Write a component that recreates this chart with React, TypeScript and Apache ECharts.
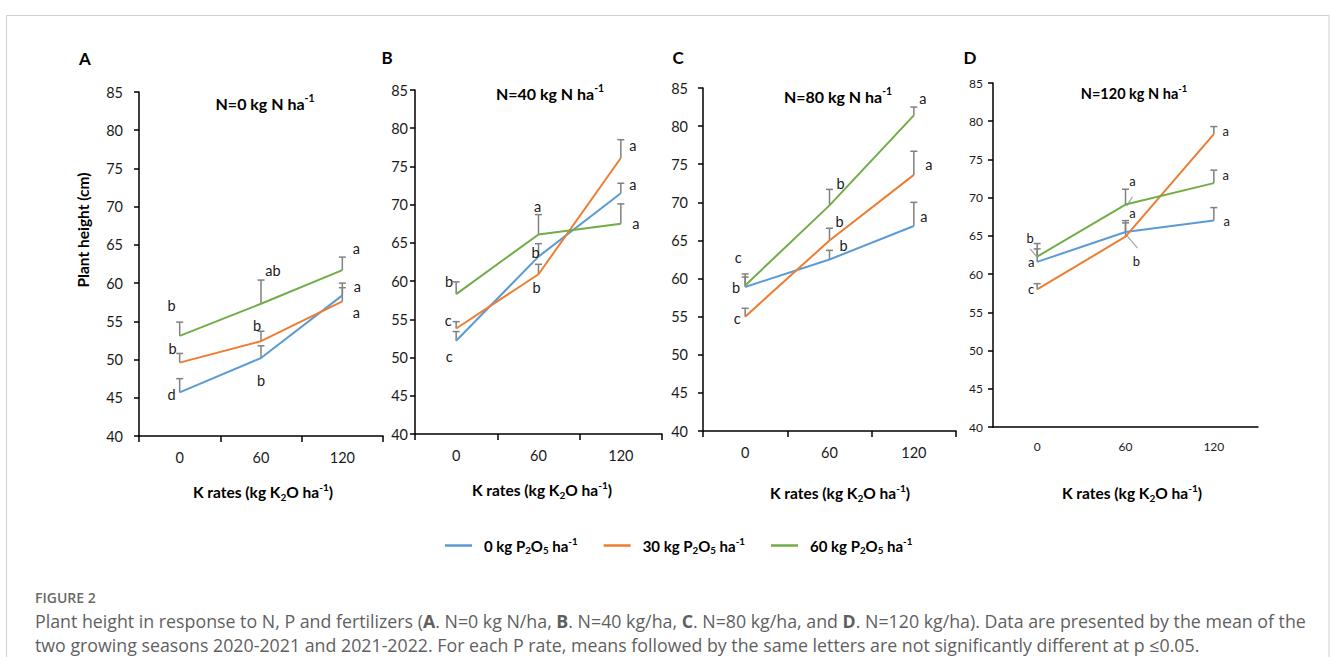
import React, { useEffect, useRef } from "react";
import * as echarts from "echarts";

// ---------- data ----------
const kRates = ["0", "60", "120"];
const pRates = ["0 kg P2O5 ha-1", "30 kg P2O5 ha-1", "60 kg P2O5 ha-1"];
const panelTitles = ["0", "40", "80", "120"]; // N rates
const panelLetters = ["A", "B", "C", "D"];

// means [P0, P30, P60] x [K0, K60, K120]
const meansN0 = [[45.7, 50.2, 58.4], [49.6, 52.4, 57.6], [53.1, 57.3, 61.7]];
const meansN40 = [[52.2, 63.2, 71.5], [53.8, 60.9, 76.1], [58.3, 66.1, 67.5]];
const meansN80 = [[58.9, 62.5, 66.9], [55.0, 65.0, 73.6], [59.1, 69.6, 81.4]];
const meansN120 = [[61.6, 65.5, 67.0], [58.0, 64.9, 78.3], [62.3, 69.1, 71.9]];

// standard errors (upper bars)
const seN0 = [[1.8, 1.6, 1.0], [1.2, 1.3, 2.4], [1.8, 3.1, 1.7]];
const seN40 = [[1.2, 1.7, 1.3], [0.9, 1.3, 2.4], [1.6, 2.6, 2.6]];
const seN80 = [[1.7, 1.2, 3.1], [1.1, 1.6, 3.1], [1.1, 2.1, 1.1]];
const seN120 = [[1.7, 1.5, 1.7], [0.75, 1.8, 1.0], [1.7, 2.0, 1.7]];

// significance letters
const lettersN0 = [["d", "b", "a"], ["b", "b", "a"], ["b", "ab", "a"]];
const lettersN40 = [["c", "b", "a"], ["c", "b", "a"], ["b", "a", "a"]];
const lettersN80 = [["b", "b", "a"], ["c", "b", "a"], ["c", "b", "a"]];
const lettersN120 = [["a", "a", "a"], ["c", "b", "a"], ["b", "a", "a"]];

// ---------- layout (positions of letters: [y in axis units, x offset px]) ----------
const letterPosN0 = [[[45.4, -8], [47.3, 0], [59.6, 15]], [[51.4, -7], [54.4, -4], [56.1, 14]], [[57.1, -8], [61.6, 12], [64.5, 14]]];
const letterPosN40 = [[[50.1, -7], [63.8, -3], [72.6, 12]], [[54.8, -8], [59.1, -2], [77.7, 12]], [[60.0, -7], [69.8, -1], [67.6, 15]]];
const letterPosN80 = [[[58.8, -9], [64.4, 14], [68.2, 10]], [[54.8, -8], [67.55, 10], [74.9, 15]], [[62.8, -7], [72.5, 11], [83.6, 9]]];
const letterPosN120 = [[[61.6, -6], [68.0, 7], [66.95, 13]], [[58.05, -6], [61.7, 11], [78.7, 12]], [[64.7, -7], [72.2, 7], [73.0, 12]]];
// leader strokes in panel D: [cat, y1, dx1, y2, dx2]
const leadersN120 = [[0, 62.2, 0, 63.3, -7], [1, 68.9, 1, 70.1, 7], [1, 65.1, 1, 63.4, 12]];

const allMeans = [meansN0, meansN40, meansN80, meansN120];
const allSe = [seN0, seN40, seN80, seN120];
const allLetters = [lettersN0, lettersN40, lettersN80, lettersN120];
const allLetterPos = [letterPosN0, letterPosN40, letterPosN80, letterPosN120];

const colors = ["#5b9bd5", "#ed7d31", "#70ad47"];
const FONT = "Lato, 'Open Sans', sans-serif";

const panels = [
  { left: 139, width: 244, top: 92, height: 344, lab: 14.5, yMargin: 16, xMargin: 14, ticksX: true, title: [265, 103], tSize: 16, letter: [85, 58], xname: [263, 492], letSize: 14.5 },
  { left: 415, width: 247, top: 90, height: 344, lab: 14.5, yMargin: 7, xMargin: 14, ticksX: true, title: [550, 93], tSize: 16, letter: [387, 57], xname: [542, 490], letSize: 14.5 },
  { left: 703, width: 253, top: 88, height: 343, lab: 14.5, yMargin: 15, xMargin: 14, ticksX: true, title: [838, 96], tSize: 16, letter: [678, 57], xname: [840, 493], letSize: 14.5 },
  { left: 993, width: 265, top: 83, height: 344, lab: 12, yMargin: 10, xMargin: 13, ticksX: false, title: [1134, 93], tSize: 14.5, letter: [970, 57], xname: [1132, 493], letSize: 13 },
];

const richFor = (size: number) => ({
  b: { fontSize: size, fontWeight: "bold", fontFamily: FONT, fill: "#000", color: "#000", lineHeight: size + 4 },
  sub: { fontSize: size * 0.65, fontWeight: "bold", fontFamily: FONT, fill: "#000", color: "#000", lineHeight: size * 0.65, verticalAlign: "bottom" },
  sup: { fontSize: size * 0.65, fontWeight: "bold", fontFamily: FONT, fill: "#000", color: "#000", lineHeight: size * 0.65, verticalAlign: "top" },
});

const legendRich = (name: string) => {
  const num = name.split(" ")[0];
  return `{b|${num} kg P}{sub|2}{b|O}{sub|5}{b| ha}{sup|-1}`;
};

export default function App() {
  const ref = useRef<HTMLDivElement>(null);
  useEffect(() => {
    document.body.style.margin = "0";
    if (!ref.current) return;
    const chart = echarts.init(ref.current, null, { renderer: "svg" });

    const grid: any[] = [];
    const xAxis: any[] = [];
    const yAxis: any[] = [];
    const series: any[] = [];
    const graphic: any[] = [];

    graphic.push({
      type: "rect",
      shape: { x: 6.5, y: 15.5, width: 1322.5, height: 700 },
      style: { fill: "none", stroke: "#cfcfcf", lineWidth: 1 },
      silent: true,
    });

    panels.forEach((pn, i) => {
      grid.push({ left: pn.left, top: pn.top, width: pn.width, height: pn.height, containLabel: false });
      xAxis.push({
        type: "category",
        gridIndex: i,
        data: kRates,
        boundaryGap: true,
        axisLine: { show: true, lineStyle: { color: "#000", width: 1.5 } },
        axisTick: { show: pn.ticksX, length: 6, lineStyle: { color: "#000", width: 1.5 } },
        axisLabel: { fontSize: pn.lab, fontFamily: FONT, color: "#1a1a1a", margin: pn.xMargin },
        splitLine: { show: false },
      });
      yAxis.push({
        type: "value",
        gridIndex: i,
        min: 40,
        max: 85,
        interval: 5,
        axisLine: { show: true, lineStyle: { color: "#000", width: 1.5 } },
        axisTick: { show: true, length: 5, lineStyle: { color: "#000", width: 1.5 } },
        axisLabel: { fontSize: pn.lab, fontFamily: FONT, color: "#1a1a1a", margin: pn.yMargin },
        splitLine: { show: false },
      });

      const means = allMeans[i];
      const se = allSe[i];
      const letters = allLetters[i];
      const lpos = allLetterPos[i];

      // error bars
      const errData: number[][] = [];
      means.forEach((row, p) => row.forEach((m, k) => errData.push([k, m, +(m + se[p][k]).toFixed(2)])));
      series.push({
        type: "custom",
        xAxisIndex: i,
        yAxisIndex: i,
        z: 2,
        silent: true,
        encode: { x: 0, y: [1, 2] },
        data: errData,
        renderItem: (params: any, api: any) => {
          const x = api.value(0);
          const lo = api.coord([x, api.value(1)]);
          const hi = api.coord([x, api.value(2)]);
          const st = { stroke: "#808080", lineWidth: 1.5 };
          return {
            type: "group",
            children: [
              { type: "line", shape: { x1: lo[0], y1: lo[1], x2: hi[0], y2: hi[1] }, style: st },
              { type: "line", shape: { x1: hi[0] - 3.5, y1: hi[1], x2: hi[0] + 3.5, y2: hi[1] }, style: st },
            ],
          };
        },
      });

      // lines
      means.forEach((row, p) => {
        series.push({
          type: "line",
          name: pRates[p],
          xAxisIndex: i,
          yAxisIndex: i,
          data: row,
          symbol: "none",
          showSymbol: false,
          z: 3,
          color: colors[p],
          lineStyle: { color: colors[p], width: 2 },
        });
      });

      // letters
      const letData: number[][] = [];
      const letText: string[] = [];
      lpos.forEach((row, p) =>
        row.forEach((pos, k) => {
          letData.push([k, pos[0], pos[1]]);
          letText.push(letters[p][k]);
        })
      );
      series.push({
        type: "custom",
        xAxisIndex: i,
        yAxisIndex: i,
        z: 4,
        silent: true,
        encode: { x: 0, y: 1 },
        data: letData,
        renderItem: (params: any, api: any) => {
          const pt = api.coord([api.value(0), api.value(1)]);
          return {
            type: "text",
            x: pt[0] + api.value(2),
            y: pt[1],
            style: {
              text: letText[params.dataIndex],
              align: "center",
              verticalAlign: "middle",
              fontSize: pn.letSize,
              fontFamily: FONT,
              fill: "#1a1a1a",
            },
          };
        },
      });

      if (i === 3) {
        series.push({
          type: "custom",
          xAxisIndex: i,
          yAxisIndex: i,
          z: 2,
          silent: true,
          encode: { x: 0, y: [1, 3] },
          data: leadersN120,
          renderItem: (params: any, api: any) => {
            const c = api.value(0);
            const a = api.coord([c, api.value(1)]);
            const b = api.coord([c, api.value(3)]);
            return {
              type: "line",
              shape: { x1: a[0] + api.value(2), y1: a[1], x2: b[0] + api.value(4), y2: b[1] },
              style: { stroke: "#a6a6a6", lineWidth: 1.2 },
            };
          },
        });
      }

      // panel letter
      graphic.push({
        type: "text",
        x: pn.letter[0],
        y: pn.letter[1],
        style: { text: panelLetters[i], fontSize: 17, fontWeight: "bold", fontFamily: FONT, fill: "#000", align: "center", verticalAlign: "middle" },
      });
      // panel title
      graphic.push({
        type: "text",
        x: pn.title[0],
        y: pn.title[1],
        style: {
          text: `{b|N=${panelTitles[i]} kg N ha}{sup|-1}`,
          rich: richFor(pn.tSize),
          align: "center",
          verticalAlign: "middle",
        },
      });
      // x axis name
      graphic.push({
        type: "text",
        x: pn.xname[0],
        y: pn.xname[1],
        style: {
          text: "{b|K rates (kg K}{sub|2}{b|O ha}{sup|-1}{b|)}",
          rich: richFor(15.5),
          align: "center",
          verticalAlign: "middle",
        },
      });
    });

    // y axis name (panel A)
    graphic.push({
      type: "text",
      x: 83,
      y: 230,
      rotation: Math.PI / 2,
      style: { text: "Plant height (cm)", fontSize: 15.5, fontWeight: "bold", fontFamily: FONT, fill: "#000", align: "center", verticalAlign: "middle" },
    });

    // caption
    const capFont = "'Open Sans', sans-serif";
    const capSize = 17.8;
    const capStyle = { fontSize: capSize, fontFamily: capFont, fill: "#5f5f5f", color: "#5f5f5f" };
    const capBold = { fontSize: capSize, fontFamily: capFont, fill: "#5f5f5f", color: "#5f5f5f", fontWeight: "bold" };
    graphic.push({
      type: "text",
      x: 35,
      y: 597,
      style: { text: "FIGURE 2", fontSize: 14, fontWeight: 600, fontFamily: capFont, fill: "#6a6a6a", align: "left", verticalAlign: "middle" },
    });
    graphic.push({
      type: "text",
      x: 35,
      y: 621,
      style: {
        text:
          "{n|Plant height in response to N, P and fertilizers (}{bb|A}{n|. N=0 kg N/ha, }{bb|B}{n|. N=40 kg/ha, }{bb|C}{n|. N=80 kg/ha, and }{bb|D}{n|. N=120 kg/ha). Data are presented by the mean of the}",
        rich: { n: capStyle, bb: capBold },
        align: "left",
        verticalAlign: "middle",
      },
    });
    graphic.push({
      type: "text",
      x: 35,
      y: 645,
      style: {
        text: "two growing seasons 2020-2021 and 2021-2022. For each P rate, means followed by the same letters are not significantly different at p \u22640.05.",
        ...capStyle,
        align: "left",
        verticalAlign: "middle",
      },
    });

    chart.setOption({
      animation: false,
      textStyle: { fontFamily: FONT },
      grid,
      xAxis,
      yAxis,
      series,
      graphic,
      legend: {
        data: pRates,
        left: 440,
        top: 531,
        icon: "rect",
        itemWidth: 27,
        itemHeight: 2.5,
        itemGap: 26,
        formatter: (name: string) => legendRich(name),
        textStyle: { rich: richFor(15) as any, padding: [0, 0, 0, 7] },
      },
    });
    return () => chart.dispose();
  }, []);
  return <div ref={ref} style={{ width: 1330, height: 657 }} />;
}
